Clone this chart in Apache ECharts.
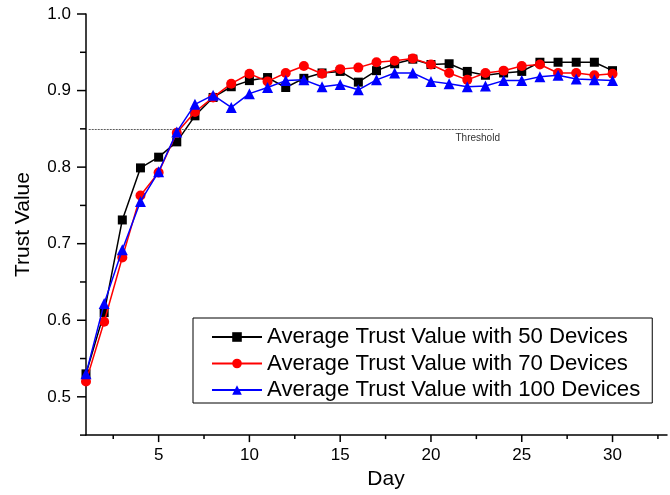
<!DOCTYPE html>
<html>
<head>
<meta charset="utf-8">
<script src="https://cdn.jsdelivr.net/npm/echarts@6/dist/echarts.min.js"></script>
<style>
html,body{margin:0;padding:0;background:#fff;}
#chart{width:670px;height:495px;}
</style>
</head>
<body>
<div id="chart"></div>
<script>
const days = [1,2,3,4,5,6,7,8,9,10,11,12,13,14,15,16,17,18,19,20,21,22,23,24,25,26,27,28,29,30];
const s50 = [0.530,0.610,0.731,0.799,0.813,0.833,0.867,0.891,0.905,0.913,0.917,0.904,0.916,0.923,0.925,0.911,0.926,0.935,0.941,0.934,0.935,0.925,0.920,0.923,0.925,0.937,0.937,0.937,0.937,0.926];
const s70 = [0.520,0.598,0.682,0.763,0.793,0.845,0.872,0.891,0.909,0.922,0.912,0.923,0.932,0.922,0.928,0.930,0.937,0.939,0.942,0.934,0.923,0.914,0.923,0.926,0.932,0.934,0.923,0.923,0.920,0.922];
const s100 = [0.530,0.622,0.692,0.755,0.794,0.846,0.882,0.894,0.878,0.896,0.904,0.913,0.914,0.905,0.908,0.901,0.914,0.923,0.923,0.912,0.909,0.905,0.906,0.913,0.913,0.918,0.920,0.915,0.914,0.913];
const seriesNames = ['Average Trust Value with 50 Devices','Average Trust Value with 70 Devices','Average Trust Value with 100 Devices'];
const threshold = 0.85;
const thresholdStart = 1.15;
const thresholdEnd = 23.4;
const xTicks = [2.5,5,7.5,10,12.5,15,17.5,20,22.5,25,27.5,30,32.5];
const yTicks = [0.45,0.5,0.55,0.6,0.65,0.7,0.75,0.8,0.85,0.9,0.95,1.0];

const FONT = '"Liberation Sans", Arial, sans-serif';
const chart = echarts.init(document.getElementById('chart'), null, {renderer:'canvas'});

function pairs(arr){ return days.map((d,i)=>[d,arr[i]]); }

const option = {
  animation:false,
  backgroundColor:'#fff',
  textStyle:{fontFamily:FONT},
  grid:{left:86, right:2, top:14, bottom:47.3, containLabel:false},
  xAxis:{
    type:'value', min:1, max:33, interval:0.5,
    name:'Day', nameLocation:'middle', nameGap:21,
    nameTextStyle:{fontFamily:FONT, fontSize:21, color:'#000', verticalAlign:'top', padding:[0,0,0,19]},
    axisLine:{show:true, lineStyle:{color:'#000', width:1.5}},
    axisTick:{show:false},
    splitLine:{show:false},
    axisLabel:{fontFamily:FONT, fontSize:17, color:'#000', margin:12,
      formatter:function(v){ return (Math.abs(v/5-Math.round(v/5))<1e-6) ? String(Math.round(v)) : ''; }}
  },
  yAxis:{
    type:'value', min:0.45, max:1.0, interval:0.05,
    name:'Trust Value', nameLocation:'middle', nameGap:52,
    nameTextStyle:{fontFamily:FONT, fontSize:21, color:'#000'},
    axisLine:{show:true, lineStyle:{color:'#000', width:1.5}},
    axisTick:{show:false},
    splitLine:{show:false},
    axisLabel:{fontFamily:FONT, fontSize:17, color:'#000', margin:15,
      formatter:function(v){ const k=Math.round(v*100); return (k%10===0) ? (k/100).toFixed(1) : ''; }}
  },
  legend:{
    data:seriesNames,
    orient:'vertical',
    left:193, top:318,
    padding:[7,12,1,18],
    itemWidth:50, itemHeight:12, itemGap:2.5,
    borderColor:'#000', borderWidth:1,
    textStyle:{fontFamily:FONT, fontSize:22.2, color:'#000', lineHeight:24}
  },
  series:[
    {
      name:seriesNames[0], type:'line', data:pairs(s50),
      symbol:'rect', symbolSize:9, z:3,
      lineStyle:{color:'#000', width:1.5}, itemStyle:{color:'#000'},
      markLine:{
        silent:true, symbol:['none','none'], animation:false,
        lineStyle:{color:'#333', width:0.8, type:[2,1]},
        label:{show:false},
        data:[[{coord:[thresholdStart,threshold]},{coord:[thresholdEnd,threshold]}]]
      },
      markPoint:{
        silent:true, symbol:'circle', symbolSize:0,
        label:{show:true, formatter:'Threshold', position:[0,4], align:'right', verticalAlign:'top',
          fontFamily:FONT, fontSize:10, color:'#333'},
        data:[{coord:[23.8,threshold]}]
      }
    },
    {
      name:seriesNames[1], type:'line', data:pairs(s70),
      symbol:'circle', symbolSize:10, z:4,
      lineStyle:{color:'#ff0000', width:1.5}, itemStyle:{color:'#ff0000'}
    },
    {
      name:seriesNames[2], type:'line', data:pairs(s100),
      symbol:'triangle', symbolSize:11, z:5,
      lineStyle:{color:'#0000ff', width:1.5}, itemStyle:{color:'#0000ff'}
    },
    {
      name:'xticks', type:'custom', clip:false, silent:true, z:6,
      data:xTicks.map(v=>[v]),
      renderItem:function(params, api){
        const v = api.value(0);
        const p = api.coord([v, 0.45]);
        const major = Math.abs(v/5-Math.round(v/5))<1e-6;
        return {type:'line', shape:{x1:p[0], y1:p[1], x2:p[0], y2:p[1]+(major?7:4)},
          style:{stroke:'#000', lineWidth:1.5}};
      }
    },
    {
      name:'yticks', type:'custom', clip:false, silent:true, z:6,
      data:yTicks.map(v=>[1,v]),
      renderItem:function(params, api){
        const v = api.value(1);
        const p = api.coord([1, v]);
        const major = Math.round(v*100)%10===0;
        return {type:'line', shape:{x1:p[0]-(major?9:6), y1:p[1], x2:p[0], y2:p[1]},
          style:{stroke:'#000', lineWidth:1.5}};
      }
    }
  ]
};
chart.setOption(option);
</script>
</body>
</html>
